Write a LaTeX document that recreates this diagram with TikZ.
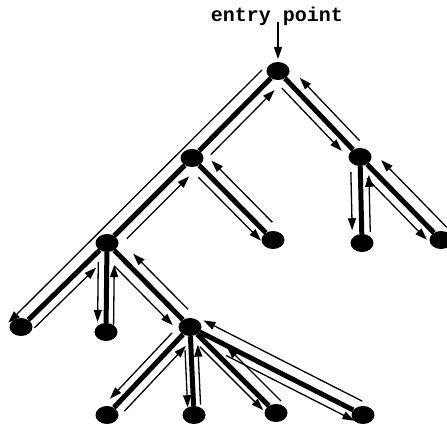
\documentclass[tikz,border=0pt]{standalone}
\usepackage{fontspec}
\setmonofont{Liberation Mono}
\usetikzlibrary{calc,arrows.meta,shapes.geometric}
\tikzset{
  vtx/.style={shape=ellipse, fill=black, draw=none, minimum width=23pt, minimum height=18pt, inner sep=0pt},
  treeedge/.style={line width=5pt},
  tour/.style={line width=1.3pt, -{Triangle[length=12pt,width=8pt]}},
  entrylabel/.style={font=\fontsize{20}{24}\selectfont\ttfamily\bfseries, inner sep=0pt},
}
% #1 from node, #2 to node, #3 start distance, #4 end distance, #5 side offset
\newcommand\tourline[5]{%
  \draw[tour] ($(#1)!#3pt!(#2)!#5pt!-90:(#2)$) -- ($(#2)!#4pt!(#1)!#5pt!90:(#1)$);}
\begin{document}
\begin{tikzpicture}[x=1pt,y=-1pt]
\useasboundingbox (0,0) rectangle (447,428);
% label
\node[entrylabel] (entry) at (277,16) {entry point};
% vertices
\node[vtx] (R)  at (278,71) {};
\node[vtx] (A)  at (192,158) {};
\node[vtx] (B)  at (360,157) {};
\node[vtx] (C)  at (107,243) {};
\node[vtx] (D)  at (273,240) {};
\node[vtx] (Bv) at (362,243) {};
\node[vtx] (Br) at (441,240) {};
\node[vtx] (L1) at (21,327) {};
\node[vtx] (M)  at (106,332) {};
\node[vtx] (E)  at (190,327) {};
\node[vtx] (F1) at (107,415) {};
\node[vtx] (F2) at (194,415) {};
\node[vtx] (F3) at (276,413) {};
\node[vtx] (F4) at (363,415) {};
% entry arrow
\coordinate (entryfoot) at (278,22);
\draw[tour] (entryfoot) -- ($(R)+(0,-12)$);
% tree edges
\draw[treeedge] (R) -- (A) (A) -- (C) (C) -- (L1) (C) -- (M) (C) -- (E)
  (A) -- (D) (R) -- (B) (B) -- (Bv) (B) -- (Br)
  (E) -- (F1) (E) -- (F2) (E) -- (F3) (E) -- (F4);
% traversal
\tourline{R}{L1}{10.6}{-6}{12}
\tourline{A}{R}{15.5}{16}{11}
\tourline{C}{A}{17}{15}{11}
\tourline{L1}{C}{9}{25}{10}
\tourline{C}{M}{19}{10}{8.5}
\tourline{M}{C}{7}{22}{7.5}
\tourline{C}{E}{22}{13.4}{11}
\tourline{E}{C}{14}{26}{11}
\tourline{A}{D}{18}{8}{9}
\tourline{D}{A}{13}{15.5}{12}
\tourline{R}{B}{15}{17}{9}
\tourline{B}{R}{12}{20}{11}
\tourline{B}{Br}{20}{10}{10}
\tourline{Br}{B}{5}{17}{13}
\tourline{B}{Bv}{15}{13}{9.5}
\tourline{Bv}{B}{11}{18}{8.5}
\tourline{E}{F1}{16.7}{13.8}{9}
\tourline{F1}{E}{14.6}{16.6}{10}
\tourline{E}{F2}{23}{8}{6}
\tourline{F2}{E}{10}{18}{7}
\tourline{E}{F3}{21}{11}{7}
\tourline{F3}{E}{5}{40}{12}
\tourline{E}{F4}{45}{5}{9}
\tourline{F4}{E}{7}{9}{12}
\end{tikzpicture}
\end{document}
